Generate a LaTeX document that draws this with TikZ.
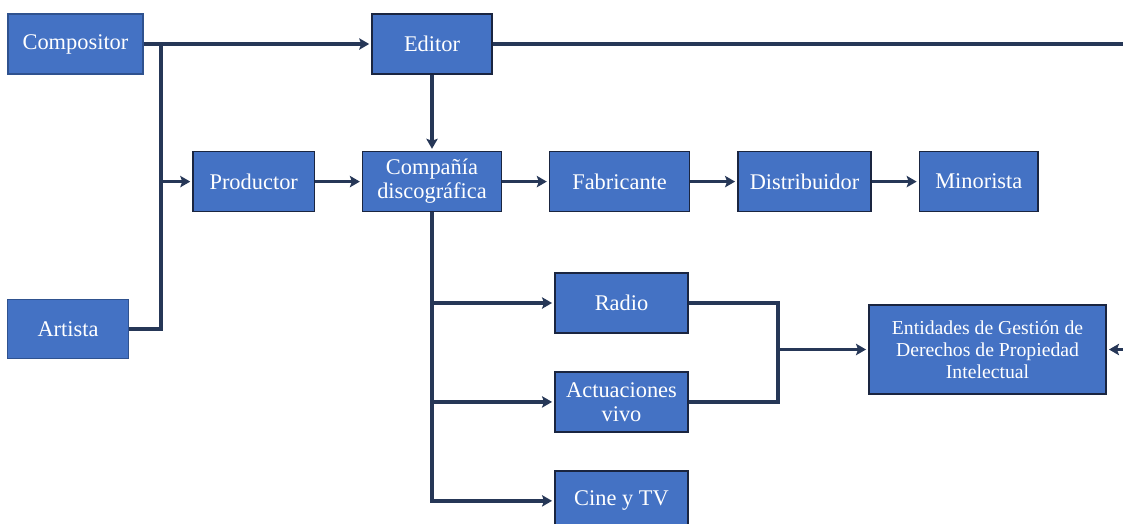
\documentclass[tikz,border=0pt]{standalone}
\usepackage{fontspec}
\setmainfont{Liberation Serif}
\newfontfamily\boxfont{Liberation Serif}
\usetikzlibrary{positioning,arrows.meta}
\definecolor{boxblue}{HTML}{4472C4}
\definecolor{boxline}{HTML}{1A2540}
\definecolor{softline}{HTML}{2F528F}
\definecolor{wire}{HTML}{263757}

\begin{document}
\begin{tikzpicture}[x=0.75pt,y=-0.75pt,
  box/.style={draw=boxline,line width=1.2pt,fill=boxblue,text=white,font=\boxfont\fontsize{16.8pt}{18pt}\selectfont,align=center,minimum height=45pt,inner sep=2pt},
  softbox/.style={box,draw=softline},
  link/.style={draw=wire,line width=2.5pt},
  arr/.style={link,shorten >=1.5pt,-{Stealth[length=7.5pt,width=8.5pt,inset=1.5pt]}},
  node distance=35pt]
  \useasboundingbox (0,0) rectangle (1123,524);
  \node[softbox,minimum width=101pt] (comp) at (75.5,44) {Compositor};
  \node[box,minimum width=90pt] (edit) at (432,44) {Editor};
  \node[box,minimum width=104pt,below=57pt of edit] (disco) {Compañía\\discográfica};
  \node[box,minimum width=91pt,left=of disco] (prod) {Productor};
  \node[box,minimum width=105pt,right=of disco] (fab) {Fabricante};
  \node[box,minimum width=100pt,right=of fab] (dist) {Distribuidor};
  \node[box,minimum width=89pt,right=of dist] (mino) {Minorista};
  \node[softbox,minimum width=91pt,minimum height=44pt] (art) at (68,329) {Artista};
  \node[box,minimum width=100pt] (radio) at (621.5,303) {Radio};
  \node[box,minimum width=100pt,below=28pt of radio] (vivo) {Actuaciones\\vivo};
  \node[box,minimum width=100pt,below=28pt of vivo] (cine) {Cine y TV};
  \node[box,minimum width=178pt,minimum height=67pt,font=\boxfont\fontsize{14.8pt}{16.5pt}\selectfont] (egdpi) at (987.5,349.5) {Entidades de Gestión de\\Derechos de Propiedad\\Intelectual};
  \coordinate (trunk) at (161,44);
  \coordinate (edgeA) at (1123,44);
  \coordinate (edgeB) at (1123,349.5);
  \coordinate (merge) at (778,349.5);
  \draw[arr] (comp) -- (edit);
  \draw[link] (art.east) -| (trunk);
  \draw[arr] (trunk |- prod.west) -- (prod);
  \draw[arr] (prod) -- (disco);
  \draw[arr] (edit) -- (disco);
  \draw[link] (edit) -- (edgeA);
  \draw[arr] (disco) -- (fab);
  \draw[arr] (fab) -- (dist);
  \draw[arr] (dist) -- (mino);
  \draw[arr] (disco.south) |- (cine);
  \draw[arr] (disco.south |- radio) -- (radio);
  \draw[arr] (disco.south |- vivo) -- (vivo);
  \draw[link] (radio) -| (merge) |- (vivo);
  \draw[arr] (merge) -- (egdpi);
  \draw[arr] (edgeB) -- (egdpi);
\end{tikzpicture}
\end{document}
